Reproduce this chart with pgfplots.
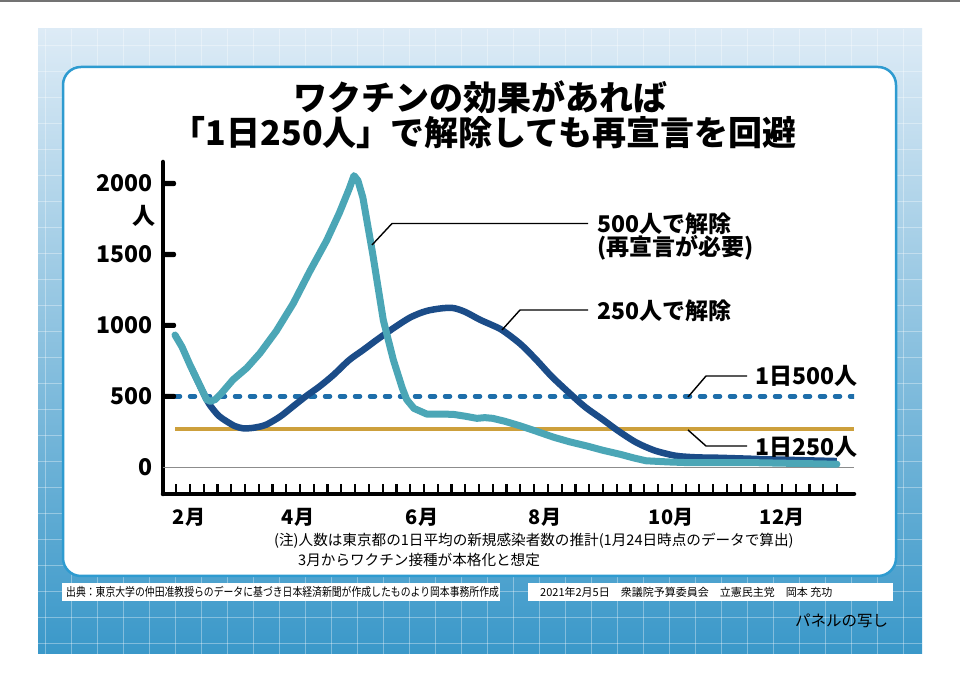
\documentclass[border=0pt]{standalone}
\usepackage{fontspec}
\setmainfont{Noto Sans CJK JP}
\usepackage{graphicx}
\usepackage{pgfplots}
\pgfplotsset{compat=1.18}

\definecolor{teal500}{HTML}{4BA6B6}
\definecolor{navy250}{HTML}{1B4C88}
\definecolor{dash500}{HTML}{1E6EAA}
\definecolor{gold250}{HTML}{CDA03C}
\definecolor{framec}{HTML}{2E9BD0}
\definecolor{paneltop}{HTML}{DDEBF6}
\definecolor{panelbot}{HTML}{3A98C9}

\newcommand\fs[1]{\fontsize{#1}{#1}\selectfont}

\begin{document}
\begin{tikzpicture}
\useasboundingbox (0,0) rectangle (960pt,679pt);
\fill[white] (0,0) rectangle (960pt,679pt);

% panel background
\begin{scope}[x=1pt,y=-1pt,yshift=679pt]
  \fill[black!55] (0,0) rectangle (960,2);
  \shade[top color=paneltop, bottom color=panelbot] (38,29) rectangle (922,654);
  \begin{scope}
    \clip (38,29) rectangle (922,654);
    \foreach \gx in {45,71,...,921} \draw[white,opacity=.35,line width=0.8pt] (\gx,29) -- (\gx,654);
    \foreach \gy in {45,71,...,653} \draw[white,opacity=.35,line width=0.8pt] (38,\gy) -- (922,\gy);
  \end{scope}
  \draw[framec, line width=2.5pt, fill=white, rounded corners=18pt] (63,67) rectangle (896,576);

  % title
  \node[font=\fs{34}\bfseries, inner sep=0] at (480,97) {ワクチンの効果があれば};
  \node[font=\fs{34}\bfseries, inner sep=0] at (484,133) {「1日250人」で解除しても再宣言を回避};

  % notes
  \node[anchor=west, inner sep=0, font=\fs{14.6}] at (274,541) {(注)人数は東京都の1日平均の新規感染者数の推計(1月24日時点のデータで算出)};
  \node[anchor=west, inner sep=0, font=\fs{14.6}] at (298,560) {3月からワクチン接種が本格化と想定};

  % source boxes
  \fill[white] (62,583) rectangle (500,601);
  \node[anchor=west, inner sep=0] at (66,592) {\scalebox{0.82}[1]{\fs{12}出典：東京大学の仲田准教授らのデータに基づき日本経済新聞が作成したものより岡本事務所作成}};
  \fill[white] (528,583) rectangle (893,601);
  \node[anchor=west, inner sep=0, font=\fs{11}] at (540,592) {2021年2月5日　衆議院予算委員会　立憲民主党　岡本 充功};
  \node[anchor=west, inner sep=0, font=\fs{15.5}] at (795,621) {パネルの写し};

  % y unit and zero label
  \node[font=\fs{23}\bfseries, inner sep=0] at (144,216) {人};
  \node[font=\fs{23}\bfseries, inner sep=0, anchor=east] at (153,467.3) {0};
  % month labels
  \foreach \mx/\mt in {189/2月,298/4月,422/6月,545/8月,671/10月,782/12月}
    \node[font=\fs{20}\bfseries, inner sep=0] at (\mx,517) {\mt};
\end{scope}

\begin{axis}[
    at={(163pt,185pt)}, anchor=south west,
    width=691pt, height=332pt, scale only axis,
    xmin=18.4, xmax=369.7, ymin=-188, ymax=2151,
    axis x line=bottom, axis y line=left,
    axis line style={line width=4.5pt, line cap=round, -},
    major tick length=0pt,
    xtick={25,32,...,361}, xticklabel=\empty,
    ytick={500,1000,1500,2000},
    yticklabel style={font=\fs{23}\bfseries, anchor=east, inner sep=0pt, xshift=-10pt},
    /pgf/number format/assume math mode=true,
    /pgf/number format/set thousands separator={},
  ]
  % reference lines
  \addplot[black!45, line width=1.5pt] coordinates {(18.4,0) (369.7,0)};
  \addplot[gold250, line width=4pt] coordinates {(24.5,270) (369.7,270)};
  \addplot[dash500, line width=4.5pt, line cap=round, dash pattern=on 5pt off 10pt] coordinates {(24.5,500) (369.7,500)};

  % 250人で解除
  \addplot[navy250, line width=6.5pt, smooth, tension=0.5, line join=round] coordinates {
    (33,696) (40.6,477) (44,406) (47,360) (50.6,325) (55,290) (59,275) (63,276)
    (67,285) (71,301) (78,358) (84.6,430) (91,500) (98,570) (105,650) (113,755)
    (120,825) (127,897) (135,975) (144,1055) (152,1100) (160,1120) (166,1122)
    (172,1095) (179.5,1040) (186,1000) (191,965) (200,870) (208,760) (216,640)
    (225,523) (233,425) (242,336) (250,255) (259,175) (268,120) (276,90) (281,78)
    (290,70) (301.6,67) (330,55) (361,44)};

  % 500人で解除
  \addplot[teal500, line width=7pt, line join=round, line cap=round] coordinates {
    (24.5,932) (28,850) (32.1,722) (36,610) (40.6,477) (42.5,465) (45,478)
    (48.2,523) (54,617) (61,700) (67.7,804) (76,960) (84.6,1154) (93,1380)
    (101.6,1598) (108,1790) (113,1960) (115.5,2055) (117.5,2020) (120,1901)
    (125,1505) (130.4,1037) (135.5,757) (140,560) (142.3,477) (146,415)
    (152.5,375) (160,375) (166,373) (172,360) (178,345) (182,350) (186,345)
    (192,325) (200,292) (208,255) (217,212) (225,180) (234,150) (242,120)
    (251,91) (258,65) (264,46) (275,38) (285,33) (318,33) (361,22)};
\end{axis}

% tick marks, leaders and labels
\begin{scope}[x=1pt,y=-1pt,yshift=679pt]
  \foreach \k in {0,...,48}
    \fill[black] ({175+13.77*\k},484) rectangle ({177.2+13.77*\k},495);
  \foreach \ty in {396.4,325.4,254.5,183.5}
    \fill[black, rounded corners=2pt] (161,{\ty-2.6}) rectangle (176,{\ty+2.6});

  \draw[line width=1.4pt] (372,245) -- (392,223.5) -- (588,223.5);
  \node[anchor=west, inner sep=0, font=\fs{23}\bfseries] at (597,223.5) {500人で解除};
  \node[anchor=west, inner sep=0, font=\fs{23}\bfseries] at (597,247.5) {(再宣言が必要)};
  \draw[line width=1.4pt] (502,330) -- (520,310) -- (588,310);
  \node[anchor=west, inner sep=0, font=\fs{23}\bfseries] at (597,310.5) {250人で解除};
  \draw[line width=1.4pt] (688,397) -- (706,376) -- (747,376);
  \node[anchor=west, inner sep=0, font=\fs{23}\bfseries] at (755,375.5) {1日500人};
  \draw[line width=1.4pt] (688,430) -- (706,446) -- (747,446);
  \node[anchor=west, inner sep=0, font=\fs{23}\bfseries] at (755,447) {1日250人};
\end{scope}
\end{tikzpicture}
\end{document}
